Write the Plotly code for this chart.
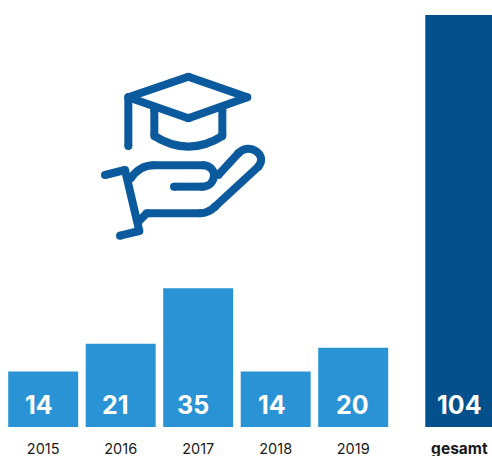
import re
import plotly.graph_objects as go

# Degree counts per year plus the overall total
years = ["2015", "2016", "2017", "2018", "2019"]
year_values = [14, 21, 35, 14, 20]
total_label = "gesamt"
total_value = 104

YEAR_COLOR = "#2A93D5"
TOTAL_COLOR = "#03508C"
ICON_COLOR = "#0B5A9E"
FONT = "Inter, Lato, sans-serif"

W, H = 492, 456
BASE = 427
STROKE = 8

# Slot positions on the x axis: yearly bars sit one unit apart, the total stands apart
year_pos = list(range(len(years)))
total_pos = 5.37
label_nudges = [-4, -5, -5, -4, -1, 0]

fig = go.Figure()
fig.add_bar(x=year_pos, y=year_values, width=0.903, marker_color=YEAR_COLOR, marker_line_width=0)
fig.add_bar(x=[total_pos], y=[total_value], width=0.88, marker_color=TOTAL_COLOR, marker_line_width=0)

# Value labels sit at a fixed height above the baseline
for xv, v, nudge in zip(year_pos + [total_pos], year_values + [total_value], label_nudges):
    fig.add_annotation(x=xv, y=0, text=f"<b>{v}</b>", showarrow=False, yanchor="middle",
                       yshift=22, xshift=nudge,
                       font=dict(family=FONT, size=25, color="white"))

# Line-art icon: graduation cap above an open hand, stroked paths in a 570-unit box
ICON_PATHS = [
    "M115 258 L115 112 L295 50 L472 112 L295 175 L115 112",
    "M193 150 L193 228 C260 270 330 270 397 228 L397 150",
    "M122 355 C140 330 165 316 190 316 L340 316 C358 316 372 330 372 345 C372 365 358 380 335 380 L252 380",
    "M385 345 L445 280 C478 245 535 285 505 320 L375 440 C360 455 345 460 330 460 L170 460 L145 485",
    "M45 345 L105 330 L148 513 L90 527",
]


def icon_px(ux, uy):
    return 90 + ux / 3, 60 + uy / 3


def to_paper(ux, uy):
    # Converts icon units to paper coordinates of the plotting area
    px, py = icon_px(ux, uy)
    return px / W, 1 - py / BASE


def icon_shapes(path):
    # Each segment is its own shape so corners avoid mitres; round dots cap every node
    out = []
    current = None
    for seg in re.findall(r"[MLC][^MLC]*", path):
        cmd = seg[0]
        nums = [float(n) for n in seg[1:].split()]
        pts = list(zip(nums[0::2], nums[1::2]))
        if cmd != "M":
            coords = [to_paper(*p) for p in [current] + pts]
            text = " ".join(f"{x:.5f} {y:.5f}" for x, y in coords[1:])
            d = f"M{coords[0][0]:.5f} {coords[0][1]:.5f} {cmd}{text}"
            out.append(dict(type="path", xref="paper", yref="paper", path=d,
                            line=dict(color=ICON_COLOR, width=STROKE),
                            fillcolor="rgba(0,0,0,0)"))
        current = pts[-1]
        px, py = icon_px(*current)
        r = STROKE / 2
        out.append(dict(type="circle", xref="paper", yref="paper",
                        x0=(px - r) / W, x1=(px + r) / W,
                        y0=1 - (py + r) / BASE, y1=1 - (py - r) / BASE,
                        fillcolor=ICON_COLOR, line_width=0))
    return out


shapes = []
for p in ICON_PATHS:
    shapes.extend(icon_shapes(p))

fig.update_layout(
    width=W, height=H,
    autosize=False,
    margin=dict(l=0, r=0, t=0, b=H - BASE, pad=0),
    paper_bgcolor="white", plot_bgcolor="white",
    showlegend=False,
    shapes=shapes,
    xaxis=dict(
        automargin=False,
        range=[-0.5574, 5.791],
        tickmode="array",
        tickvals=year_pos + [total_pos],
        ticktext=years + [f'<span style="font-size:15.5px"><b>{total_label}</b></span>'],
        ticks="outside", ticklen=9, tickcolor="rgba(0,0,0,0)",
        tickfont=dict(family=FONT, size=14.5, color="#1a1a1a"),
        showgrid=False, zeroline=False, showline=False,
    ),
    yaxis=dict(range=[0, 107.8], visible=False, automargin=False),
)

fig.write_html("out.html")
